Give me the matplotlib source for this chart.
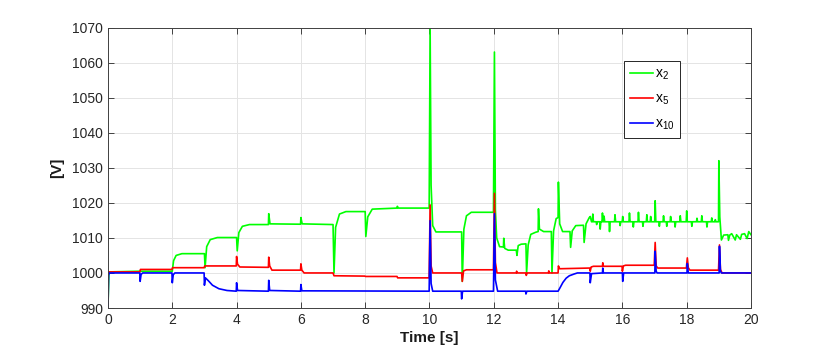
import matplotlib
matplotlib.use('Agg')
import matplotlib.pyplot as plt

plt.rcParams['font.family'] = ['Liberation Sans', 'DejaVu Sans']
plt.rcParams['mathtext.fontset'] = 'custom'
plt.rcParams['mathtext.rm'] = 'Liberation Sans'
plt.rcParams['mathtext.it'] = 'Liberation Sans'
plt.rcParams['mathtext.default'] = 'regular'

# ---- data: keypoints (time [s], voltage [V]) ----
x2_pts = [
    (0.00, 990.5), (0.03, 1000.3), (1.00, 1000.5), (2.00, 1000.5), (2.04, 1003.5),
    (2.12, 1005.0), (2.30, 1005.5), (3.00, 1005.5), (3.02, 1001.5), (3.07, 1007.5),
    (3.18, 1009.5), (3.40, 1010.1), (4.00, 1010.1), (4.02, 1006.3), (4.07, 1011.5),
    (4.18, 1013.3), (4.40, 1013.8), (4.99, 1013.8), (5.00, 1016.9), (5.04, 1014.0),
    (5.99, 1013.9), (6.00, 1015.8), (6.04, 1014.0), (7.00, 1013.8), (7.03, 1000.0),
    (7.08, 1013.0), (7.20, 1016.8), (7.40, 1017.5), (8.00, 1017.5), (8.02, 1010.4),
    (8.08, 1016.0), (8.22, 1018.2), (8.99, 1018.5), (9.00, 1019.0), (9.03, 1018.5),
    (9.99, 1018.5), (10.02, 1069.8), (10.05, 1025.0), (10.10, 1013.5), (10.20, 1011.7),
    (11.00, 1011.7), (11.02, 997.6), (11.07, 1012.5), (11.15, 1016.3), (11.30, 1017.3),
    (11.99, 1017.3), (12.02, 1063.0), (12.05, 1018.0), (12.09, 1010.0), (12.18, 1007.5),
    (12.30, 1007.4), (12.31, 1009.9), (12.34, 1007.0), (12.45, 1006.5), (12.70, 1006.5),
    (12.72, 1005.0), (12.76, 1007.8), (12.85, 1008.2), (13.00, 1008.3), (13.02, 1000.0),
    (13.07, 1008.0), (13.15, 1011.0), (13.30, 1011.6), (13.38, 1011.8), (13.39, 1018.3),
    (13.42, 1012.5), (13.55, 1011.8), (13.79, 1011.8), (13.81, 1000.0), (13.86, 1012.0),
    (13.94, 1015.5), (14.00, 1015.8), (14.01, 1025.9), (14.05, 1014.0), (14.14, 1011.8),
    (14.37, 1011.8), (14.39, 1007.3), (14.44, 1012.0), (14.55, 1013.5), (14.79, 1013.6),
    (14.81, 1008.7), (14.87, 1014.0), (14.97, 1015.8), (15.00, 1016.1), (15.04, 1014.6),
]
# spiky section between 15 s and 19 s: baseline plus spike/dip extremes
x2_noise_base = 1014.6
x2_noise_t = [15.08, 15.20, 15.31, 15.38, 15.43, 15.60, 15.77, 15.93, 16.01, 16.22,
              16.34, 16.50, 16.64, 16.76, 16.88, 17.02, 17.15, 17.28, 17.38, 17.50,
              17.64, 17.80, 18.00, 18.16, 18.32, 18.47, 18.63, 18.78, 18.89]
x2_noise_v = [1016.8, 1013.8, 1012.5, 1017.1, 1016.2, 1011.8, 1016.6, 1013.5, 1016.1, 1017.1,
              1013.1, 1017.3, 1013.3, 1016.6, 1016.1, 1020.6, 1013.3, 1016.3, 1013.3, 1016.1,
              1013.1, 1016.3, 1017.7, 1013.3, 1015.6, 1016.3, 1013.1, 1015.7, 1015.2]
x2_tail = [
    (18.99, 1014.6), (19.00, 1032.0), (19.03, 1016.0), (19.08, 1009.4), (19.15, 1010.8),
    (19.28, 1010.9), (19.30, 1009.3), (19.34, 1010.8), (19.40, 1011.2), (19.51, 1009.4),
    (19.55, 1010.9), (19.67, 1009.6), (19.71, 1011.0), (19.80, 1011.2), (19.88, 1009.8),
    (19.93, 1011.8), (20.00, 1010.9),
]

x5_pts = [
    (0.00, 1000.0), (0.03, 1000.3), (0.99, 1000.3), (1.01, 1001.0), (1.99, 1001.0),
    (2.01, 1001.5), (2.99, 1001.5), (3.01, 1002.0), (3.99, 1002.0), (4.00, 1004.7),
    (4.03, 1002.5), (4.10, 1001.7), (4.99, 1001.6), (5.00, 1004.5), (5.03, 1002.0),
    (5.10, 1000.8), (5.99, 1000.8), (6.00, 1002.6), (6.03, 1000.8), (6.10, 1000.0),
    (7.00, 1000.0), (7.03, 999.2), (7.99, 999.1), (8.01, 999.0), (8.99, 999.0),
    (9.01, 998.6), (9.99, 998.6), (10.02, 1019.4), (10.05, 1002.0), (10.10, 1000.0),
    (11.00, 1000.0), (11.02, 997.6), (11.06, 1000.6), (11.15, 1000.9), (11.99, 1000.9),
    (12.02, 1022.7), (12.05, 1003.0), (12.10, 1000.0), (12.70, 1000.0), (12.71, 1000.5),
    (12.73, 1000.0), (13.00, 1000.0), (13.01, 999.3), (13.04, 1000.0), (13.70, 1000.0),
    (13.71, 1000.6), (13.73, 1000.0), (14.00, 1000.0), (14.01, 1002.0), (14.05, 1001.2),
    (14.99, 1001.4), (15.00, 1000.5), (15.03, 1001.7), (15.10, 1001.9), (15.38, 1001.9),
    (15.39, 1002.9), (15.41, 1001.9), (15.99, 1001.9), (16.00, 1000.5), (16.03, 1002.0),
    (16.10, 1002.2), (16.99, 1002.2), (17.02, 1008.7), (17.05, 1002.0), (17.10, 1001.4),
    (17.99, 1001.4), (18.02, 1004.3), (18.05, 1001.5), (18.10, 1000.8), (18.99, 1000.8),
    (19.02, 1008.0), (19.05, 1001.0), (19.10, 1000.0), (20.00, 1000.0),
]

x10_pts = [
    (0.00, 990.0), (0.02, 999.5), (0.05, 1000.0), (0.99, 1000.0), (1.00, 997.6),
    (1.03, 999.6), (1.08, 1000.0), (1.99, 1000.0), (2.00, 997.2), (2.03, 999.5),
    (2.08, 1000.0), (2.99, 1000.0), (3.00, 996.5), (3.03, 998.6), (3.12, 997.8),
    (3.25, 996.5), (3.45, 995.5), (3.70, 995.0), (3.99, 994.8), (4.00, 997.2),
    (4.03, 995.0), (4.99, 994.8), (5.00, 997.9), (5.03, 995.0), (5.99, 994.8),
    (6.00, 996.7), (6.03, 994.9), (9.99, 994.8), (10.02, 1014.9), (10.05, 997.0),
    (10.10, 994.8), (10.99, 994.8), (11.00, 992.6), (11.03, 994.8), (11.99, 994.8),
    (12.02, 1016.9), (12.05, 998.0), (12.12, 994.8), (12.99, 994.8), (13.00, 994.0),
    (13.03, 994.8), (14.00, 994.8), (14.05, 995.6), (14.15, 997.3), (14.25, 998.5),
    (14.35, 999.2), (14.50, 999.7), (14.60, 1000.0), (14.99, 1000.0), (15.00, 997.2),
    (15.04, 999.8), (15.38, 1000.0), (15.39, 1001.4), (15.41, 1000.0), (16.00, 1000.0),
    (16.01, 997.6), (16.04, 1000.0), (17.01, 1000.0), (17.02, 1006.2), (17.05, 1000.5),
    (17.08, 1000.0), (18.01, 1000.0), (18.02, 1002.7), (18.05, 1000.0), (19.01, 1000.0),
    (19.02, 1007.6), (19.05, 1000.5), (19.08, 1000.0), (20.00, 1000.0),
]

series_labels = ['x$_{2}$', 'x$_{5}$', 'x$_{10}$']
x_ticks = list(range(0, 21, 2))
y_ticks = list(range(990, 1071, 10))

# ---- assemble green series (spikes: baseline -> extreme -> baseline) ----
g = list(x2_pts)
for t, v in zip(x2_noise_t, x2_noise_v):
    g += [(t - 0.015, x2_noise_base), (t, v), (t + 0.02, x2_noise_base)]
g += x2_tail
g.sort(key=lambda p: p[0])

fig = plt.figure(figsize=(8.3, 3.54), dpi=100)
ax = fig.add_axes([0.1301, 0.1299, 0.7747, 0.7924])

for pts, col, lab in [(g, (0, 1, 0), series_labels[0]),
                      (x5_pts, (1, 0, 0), series_labels[1]),
                      (x10_pts, (0, 0, 1), series_labels[2])]:
    ax.plot([p[0] for p in pts], [p[1] for p in pts], color=col, lw=1.2, label=lab)

ax.set_xlim(0, 20)
ax.set_ylim(990, 1070)
ax.set_xticks(x_ticks)
ax.set_yticks(y_ticks)
ax.grid(True, color='#e4e4e4', lw=0.7)
ax.set_axisbelow(True)
ax.tick_params(direction='in', top=True, right=True, length=4, width=0.6,
               color='#262626', labelsize=10, labelcolor='#262626')
for s in ax.spines.values():
    s.set_color('#404040')
    s.set_linewidth(0.7)

ax.set_xlabel('Time [s]', fontsize=11, fontweight='bold', color='#1a1a1a', labelpad=3)
ax.set_ylabel('[V]', fontsize=11, fontweight='bold', color='#1a1a1a', labelpad=6)

leg = ax.legend(loc='upper left', bbox_to_anchor=(0.752, 0.828),
                bbox_transform=fig.transFigure, borderaxespad=0, fancybox=False,
                edgecolor='#262626', framealpha=1, fontsize=10, handlelength=1.7,
                handletextpad=0.1, labelspacing=0.7, borderpad=0.4)
leg.get_frame().set_linewidth(0.7)

fig.savefig('out.png', dpi=100)
